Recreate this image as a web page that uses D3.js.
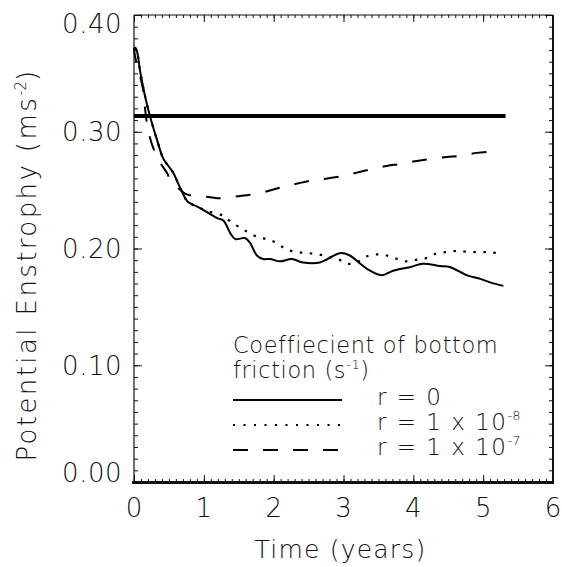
<!DOCTYPE html>
<html>
<head>
<meta charset="utf-8">
<script src="https://cdn.jsdelivr.net/npm/d3@7"></script>
<style>
  body { margin: 0; background: #fff; }
  svg text { font-family: "DejaVu Sans", sans-serif; fill: #111; }
</style>
</head>
<body>
<div id="chart"></div>
<script>
// Potential enstrophy vs time for three bottom-friction coefficients

// Data
const xTicks = [0, 1, 2, 3, 4, 5, 6];
const yTicks = [0, 0.1, 0.2, 0.3, 0.4];

// r = 0 (solid)
const tSolid = [0, 0.03, 0.09, 0.16, 0.23, 0.33, 0.42, 0.56, 0.63, 0.70, 0.77, 0.90, 1.05, 1.19, 1.28, 1.38, 1.45, 1.59, 1.66, 1.76, 1.85, 1.95, 2.09, 2.26, 2.42, 2.66, 2.95, 3.09, 3.24, 3.38, 3.55, 3.71, 3.95, 4.14, 4.38, 4.53, 4.77, 4.96, 5.10, 5.29];
const vSolid = [0.372, 0.371, 0.351, 0.330, 0.313, 0.293, 0.277, 0.265, 0.256, 0.247, 0.240, 0.236, 0.231, 0.226, 0.224, 0.213, 0.208, 0.209, 0.205, 0.194, 0.191, 0.191, 0.189, 0.191, 0.188, 0.188, 0.196, 0.194, 0.187, 0.181, 0.177, 0.181, 0.184, 0.187, 0.185, 0.184, 0.177, 0.174, 0.171, 0.168];

// r = 1e-8 (dotted)
const tDot = [0, 0.03, 0.09, 0.16, 0.23, 0.33, 0.42, 0.56, 0.63, 0.70, 0.77, 0.90, 1.05, 1.28, 1.40, 1.52, 1.63, 1.78, 1.92, 2.06, 2.19, 2.34, 2.49, 2.64, 2.78, 2.92, 3.05, 3.19, 3.32, 3.47, 3.62, 3.77, 3.91, 4.05, 4.20, 4.34, 4.50, 4.64, 4.79, 4.96, 5.10, 5.24];
const vDot = [0.372, 0.371, 0.351, 0.330, 0.313, 0.293, 0.277, 0.265, 0.256, 0.247, 0.240, 0.236, 0.232, 0.228, 0.222, 0.218, 0.214, 0.2095, 0.208, 0.204, 0.199, 0.197, 0.196, 0.195, 0.193, 0.191, 0.187, 0.188, 0.193, 0.195, 0.194, 0.191, 0.189, 0.1905, 0.192, 0.196, 0.197, 0.198, 0.197, 0.197, 0.1966, 0.196];

// r = 1e-7 (dashed)
const tDash = [0, 0.014, 0.09, 0.13, 0.16, 0.20, 0.27, 0.37, 0.47, 0.52, 0.63, 0.73, 0.85, 1.09, 1.23, 1.52, 1.66, 1.91, 2.12, 2.34, 2.52, 2.77, 2.98, 3.19, 3.38, 3.62, 3.81, 4.05, 4.24, 4.48, 4.67, 4.91, 5.10];
const vDash = [0.372, 0.365, 0.347, 0.336, 0.319, 0.302, 0.287, 0.274, 0.265, 0.259, 0.252, 0.247, 0.245, 0.244, 0.243, 0.245, 0.246, 0.249, 0.2526, 0.2556, 0.258, 0.260, 0.262, 0.265, 0.2677, 0.2707, 0.2724, 0.275, 0.2767, 0.2784, 0.2793, 0.2819, 0.2828];

// reference level (thick horizontal line)
const tRef = [0, 5.32];
const vRef = [0.3135, 0.3135];

const legendLabels = [
  { name: 'r = 0', base: 'r = 0', exp: '' },
  { name: 'r = 1e-8', base: 'r = 1 x 10', exp: '-8' },
  { name: 'r = 1e-7', base: 'r = 1 x 10', exp: '-7' }
];

const W = 562, H = 567;
const pLeft = 134, pRight = 553, pTop = 15, pBottom = 482;

const svg = d3.select('#chart')
    .append('svg')
    .attr('width', W)
    .attr('height', H);

const x = d3.scaleLinear().domain([0, 6]).range([pLeft, pRight]);
const y = d3.scaleLinear().domain([0, 0.4]).range([pBottom, pTop]);

const minorX = d3.range(0, 60.5).map(i => i / 10);
const minorY = d3.range(0, 40.5).map(i => i / 100);

// ticks (inward on all four sides)
function ticks(axisFn, scale, vals, size, pos) {
    svg.append('g')
        .attr('transform', pos)
        .call(axisFn(scale).tickValues(vals).tickSize(size).tickSizeOuter(0).tickFormat(''))
        .call(g => g.select('.domain').remove())
        .call(g => g.selectAll('line').attr('stroke', '#111').attr('stroke-width', 1));
}
ticks(d3.axisBottom, x, minorX, -3, `translate(0,${pBottom})`);
ticks(d3.axisTop, x, minorX, -3, `translate(0,${pTop})`);
ticks(d3.axisLeft, y, minorY, -4, `translate(${pLeft},0)`);
ticks(d3.axisRight, y, minorY, -4, `translate(${pRight},0)`);
ticks(d3.axisBottom, x, xTicks, -7, `translate(0,${pBottom})`);
ticks(d3.axisTop, x, xTicks, -7, `translate(0,${pTop})`);
ticks(d3.axisLeft, y, yTicks, -8, `translate(${pLeft},0)`);
ticks(d3.axisRight, y, yTicks, -8, `translate(${pRight},0)`);

// frame
svg.append('line').attr('x1', pLeft).attr('x2', pRight).attr('y1', pTop).attr('y2', pTop)
    .attr('stroke', '#111').attr('stroke-width', 1.2);
svg.append('line').attr('x1', pLeft).attr('x2', pLeft).attr('y1', pTop).attr('y2', pBottom)
    .attr('stroke', '#111').attr('stroke-width', 1.2);
svg.append('line').attr('x1', pRight).attr('x2', pRight).attr('y1', pTop).attr('y2', pBottom + 1)
    .attr('stroke', '#111').attr('stroke-width', 2);
svg.append('line').attr('x1', pLeft - 2).attr('x2', pRight + 1).attr('y1', pBottom + 0.5).attr('y2', pBottom + 0.5)
    .attr('stroke', '#111').attr('stroke-width', 3);

// tick labels
svg.append('g').selectAll('text')
    .data(xTicks)
    .enter()
    .append('text')
    .attr('x', d => x(d))
    .attr('y', 517)
    .attr('text-anchor', 'middle')
    .style('font-size', '26px')
    .style('font-weight', 200)
    .text(d => d);

svg.append('g').selectAll('text')
    .data(yTicks)
    .enter()
    .append('text')
    .attr('x', 122)
    .attr('y', d => Math.max(pTop + 9, Math.min(pBottom - 9, y(d))))
    .attr('dy', '0.36em')
    .attr('text-anchor', 'end')
    .style('font-size', '26px')
    .style('font-weight', 200)
    .style('letter-spacing', '0.5px')
    .text(d => d3.format('.2f')(d));

// axis titles
svg.append('text')
    .attr('x', (pLeft + pRight) / 2 - 3)
    .attr('y', 558)
    .attr('text-anchor', 'middle')
    .style('font-size', '25px')
    .style('font-weight', 200)
    .style('letter-spacing', '1.2px')
    .text('Time (years)');

const yTitle = svg.append('text')
    .attr('transform', 'translate(36, 265) rotate(-90)')
    .attr('text-anchor', 'middle')
    .style('font-size', '26px')
    .style('font-weight', 200)
    .style('letter-spacing', '2.4px');
yTitle.append('tspan').text('Potential Enstrophy (ms');
yTitle.append('tspan').attr('dy', -10).style('font-size', '15px').style('letter-spacing', '0').text('-2');
yTitle.append('tspan').attr('dy', 10).text(')');

// series
const line = d3.line()
    .x(d => x(d[0]))
    .y(d => y(d[1]))
    .curve(d3.curveCatmullRom);

svg.append('path')
    .datum(d3.zip(tRef, vRef))
    .attr('d', line)
    .attr('fill', 'none')
    .attr('stroke', '#000')
    .attr('stroke-width', 4);

svg.append('path')
    .datum(d3.zip(tSolid, vSolid))
    .attr('d', line)
    .attr('fill', 'none')
    .attr('stroke', '#000')
    .attr('stroke-width', 2);

svg.append('path')
    .datum(d3.zip(tDot, vDot))
    .attr('d', line)
    .attr('fill', 'none')
    .attr('stroke', '#000')
    .attr('stroke-width', 2.2)
    .attr('stroke-dasharray', '2.5,7.5');

svg.append('path')
    .datum(d3.zip(tDash, vDash))
    .attr('d', line)
    .attr('fill', 'none')
    .attr('stroke', '#000')
    .attr('stroke-width', 2)
    .attr('stroke-dasharray', '15,15');

// legend
const legend = svg.append('g');
legend.append('text')
    .attr('x', 233).attr('y', 353)
    .style('font-size', '22.5px').style('font-weight', 200).style('letter-spacing', '0.6px')
    .text('Coeffiecient of bottom');
const fr = legend.append('text')
    .attr('x', 233).attr('y', 378)
    .style('font-size', '22.5px').style('font-weight', 200).style('letter-spacing', '0.6px');
fr.append('tspan').text('friction (s');
fr.append('tspan').attr('dy', -9).style('font-size', '13px').text('-1');
fr.append('tspan').attr('dy', 9).text(')');

const styles = [null, '2,8.5', '15,15'];
legendLabels.forEach((d, i) => {
    const ly = 400 + i * 25;
    legend.append('line')
        .attr('x1', 233).attr('x2', 342)
        .attr('y1', ly).attr('y2', ly)
        .attr('stroke', '#000')
        .attr('stroke-width', i === 1 ? 1.8 : 2)
        .attr('stroke-dasharray', styles[i]);
    const t = legend.append('text')
        .attr('x', 377).attr('y', ly + 5)
        .style('font-size', '23px').style('font-weight', 200).style('letter-spacing', '1.5px');
    t.append('tspan').text(d.base);
    if (d.exp) {
        t.append('tspan').attr('dy', -10).style('font-size', '13px').style('letter-spacing', '0').text(d.exp);
    }
});
</script>
</body>
</html>
